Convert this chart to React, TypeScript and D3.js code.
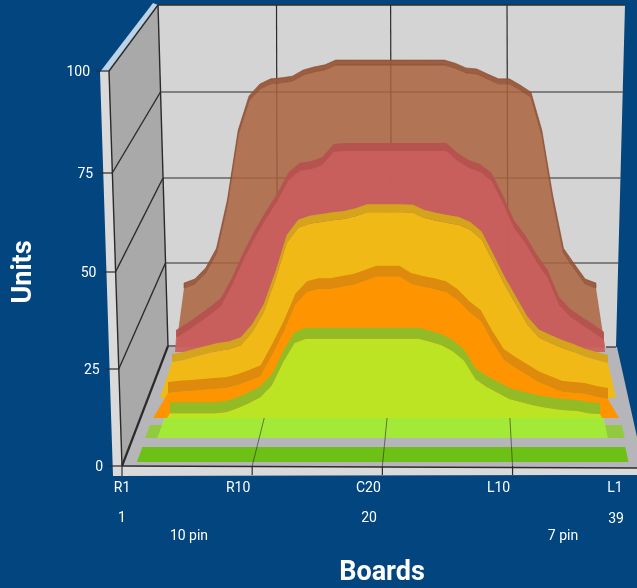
import React from "react";
import * as d3 from "d3";

const boards = d3.range(1, 40);
const yTicks = [100, 75, 50, 25, 0];
const gridBoardsFront = [10.7, 20.4, 30.1];
const gridBoardsBack = [10.5, 20.4, 30.5];
const boardLabels = ["R10", "C20", "L10"];

const brownValues = [17.3,18.5,21.7,27.5,41.6,62.1,72.1,75.6,77.1,77.4,77.9,79.7,80.6,81.2,82.6,82.6,82.6,82.6,82.6,82.6,82.6,82.6,82.6,82.6,82.6,81.7,80.3,80.0,78.5,77.1,77.1,75.3,73.2,62.1,43.1,27.5,22.9,18.5,17.3];
const redValues = [4.1,6.1,8.4,10.8,13.4,19.5,26.8,33.2,38.7,43.9,50.0,52.7,53.2,54.4,58.2,58.5,58.5,58.5,58.5,58.5,58.5,58.5,58.5,58.5,58.5,55.6,53.5,52.4,49.8,43.4,36.1,31.7,26.2,21.5,13.7,10.2,7.9,5.8,3.5];
const yellowValues = [9.9,10.4,11.3,12.1,12.9,13.4,14.5,18.1,23.6,32.4,42.5,46.7,47.8,48.3,48.8,49.1,49.9,51.0,51.0,51.0,51.0,50.8,49.4,48.6,48.0,47.5,46.1,43.4,37.3,31.0,25.5,20.0,16.5,15.1,13.7,12.6,11.3,10.4,9.6];
const orangeValues = [6.7,7.0,7.2,7.5,7.8,8.0,8.8,9.9,11.2,16.9,23.0,30.3,33.7,34.5,34.5,35.1,35.6,36.7,37.8,37.8,37.8,35.9,35.1,34.5,33.7,31.6,28.4,26.0,20.4,15.5,13.4,11.5,9.6,8.3,7.0,6.7,6.4,5.6,5.1];
const limeValues = [1.3,1.3,1.3,1.3,1.3,1.6,2.7,4.0,5.6,8.8,15.0,20.1,21.2,21.2,21.2,21.2,21.2,21.2,21.2,21.2,21.2,21.2,21.2,20.4,19.5,17.9,15.3,10.4,8.3,6.7,5.1,4.3,3.5,2.9,2.4,2.1,1.9,1.3,1.1];

const layers = [
  { values: brownValues, depth: 0.99, xr: [184, 596], foot: [176, 605], band: 5, fill: "#aa633e", op: 0.85, bandFill: "#9a5638", stroke: "#85482c" },
  { values: redValues, depth: 0.95, xr: [176, 604], foot: [175, 605], band: 8, fill: "#cc5d5d", op: 0.9, bandFill: "#b65150", stroke: "none" },
  { values: yellowValues, depth: 0.567, xr: [172, 608], foot: [160, 616], band: 8, fill: "#f1b914", op: 1, bandFill: "#d3a41c", stroke: "none" },
  { values: orangeValues, depth: 0.4, xr: [168, 608], foot: [153, 619], band: 11, fill: "#fd9405", op: 1, bandFill: "#de8a0e", stroke: "none" },
  { values: limeValues, depth: 0.4, xr: [170, 600], foot: [167, 602], band: 11, fill: "#bce424", op: 1, bandFill: "#92bb28", stroke: "none" },
];

const strips = [
  { d: [0.033, 0.158], b: [2, 38.8], fill: "#6cc014" },
  { d: [0.233, 0.342], b: [1.95, 38.9], fill: "#93c93f" },
  { d: [0.233, 0.4], b: [2.9, 37.6], fill: "#a3ea39" },
];

const depthY0 = d3.scaleLinear([0, 1], [466, 346]);
const depthY100 = d3.scaleLinear([0, 1], [71, 5]);
const depthXL = d3.scaleLinear([0, 1], [122, 168]);
const depthXR = d3.scaleLinear([0, 1], [632, 606]);
const boardX = (b: number, d: number) => d3.scaleLinear([1, 39], [depthXL(d), depthXR(d)])(b);
const valueY = (d: number) => d3.scaleLinear([0, 100], [depthY0(d), depthY100(d)]);

const frontAxisY = d3.scaleLinear([0, 25, 50, 75, 100], [466, 369, 272, 173, 71]);
const backAxisY = d3.scaleLinear([0, 25, 50, 75, 100], [346, 263, 178, 92, 5]);
const frontEdgeX = d3.scaleLinear([0, 100], [122, 109]);
const backEdgeX = d3.scaleLinear([0, 100], [168, 158]);
const backRightX = d3.scaleLinear([0, 100], [616, 625]);

const BG = "#02457f";
const LINE = "#2c2c2c";
const poly = (pts: number[][]) => "M" + pts.map((p) => p.join(",")).join("L") + "Z";
const sans = "Roboto, 'Liberation Sans', sans-serif";

export default function App() {
  const w = 637;
  const h = 588;
  return (
    <svg width={w} height={h} style={{ position: "absolute", left: 0, top: 0, background: BG }}>
      <defs>
        <filter id="soft" x="-2%" y="-2%" width="104%" height="104%">
          <feGaussianBlur stdDeviation="0.5" />
        </filter>
      </defs>
      <g filter="url(#soft)">
        <path d={poly([[100, 72], [109, 72], [122, 466], [637, 468], [637, 475], [113, 476]])} fill="#dadada" />
        <path d={poly([[100, 72], [153, 3], [158, 5], [109, 72]])} fill="#bcd2e6" />
        <path d={poly([[158, 5], [625, 5], [616, 347], [168, 347]])} fill="#d4d4d4" />
        <path d={poly([[109, 72], [158, 5], [168, 346], [122, 466]])} fill="#a9a9a9" />
        <path d={poly([[168, 347], [617, 347], [637, 437], [637, 468], [122, 466]])} fill="#b6b6ba" />

        {yTicks.filter((t) => t > 0).map((t) => (
          <line key={t} x1={backEdgeX(t)} x2={backRightX(t)} y1={backAxisY(t)} y2={backAxisY(t)} stroke={LINE} strokeWidth={1.2} />
        ))}
        {gridBoardsBack.map((b) => (
          <line key={b} x1={boardX(b, 1) - 1} x2={boardX(b, 1)} y1={5} y2={346} stroke={LINE} strokeWidth={1.2} />
        ))}
        {yTicks.map((t) => (
          <line key={t} x1={frontEdgeX(t)} y1={frontAxisY(t)} x2={backEdgeX(t)} y2={backAxisY(t)} stroke={LINE} strokeWidth={t === 0 ? 2.2 : 1.4} />
        ))}
        <line x1={109} y1={71} x2={122} y2={466} stroke={LINE} strokeWidth={1.4} />
        <line x1={158} y1={5} x2={168} y2={346} stroke={LINE} strokeWidth={1.4} />
        <line x1={158} y1={5} x2={625} y2={5} stroke={LINE} strokeWidth={1.2} />
        <line x1={168} y1={346} x2={176} y2={346} stroke={LINE} strokeWidth={1.2} />
        <line x1={606} y1={347} x2={616} y2={347} stroke={LINE} strokeWidth={1.2} />

        {yTicks.map((t) => (
          <line key={t} x1={frontEdgeX(t) - 13} x2={frontEdgeX(t)} y1={frontAxisY(t)} y2={frontAxisY(t)} stroke={LINE} strokeWidth={1.2} />
        ))}

        {layers.map((l, i) => {
          const x = d3.scaleLinear([1, 39], l.xr);
          const y = valueY(l.depth);
          const top = d3.line<number>().x((b) => x(b)).y((b, k) => y(l.values[k]));
          const band = d3
            .area<number>()
            .x((b) => x(b))
            .y0((b, k) => y(l.values[k]))
            .y1((b, k) => y(l.values[k]) - l.band);
          const face = `M${l.foot[0]},${y(0)}L${top(boards)!.slice(1)}L${l.foot[1]},${y(0)}Z`;
          return (
            <g key={i}>
              <path d={face} fill={l.fill} fillOpacity={l.op} />
              <path d={band(boards)!} fill={l.bandFill} fillOpacity={l.op === 1 ? 1 : 0.95} stroke={l.stroke} strokeWidth={l.stroke === "none" ? 0 : 0.6} />
            </g>
          );
        })}

        {strips.map((s, i) => (
          <path
            key={i}
            d={poly([
              [boardX(s.b[0], s.d[0]), depthY0(s.d[0])],
              [boardX(s.b[1], s.d[0]), depthY0(s.d[0])],
              [boardX(s.b[1], s.d[1]), depthY0(s.d[1])],
              [boardX(s.b[0], s.d[1]), depthY0(s.d[1])],
            ])}
            fill={s.fill}
          />
        ))}

        <line x1={122} y1={466} x2={637} y2={468} stroke={LINE} strokeWidth={1.4} />
        {gridBoardsFront.map((b) => (
          <g key={b}>
            <line x1={boardX(b, 0)} y1={466} x2={boardX(b, 0.4) + 1} y2={418} stroke={LINE} strokeWidth={1} opacity={0.6} />
            <line x1={boardX(b, 0)} y1={466} x2={boardX(b, 0)} y2={475} stroke={LINE} strokeWidth={1.2} />
          </g>
        ))}
        <line x1={122} y1={466} x2={122} y2={476} stroke={LINE} strokeWidth={1.2} />

        <g fontFamily={sans} fontSize={14} fill="#fff">
          {yTicks.map((t) => (
            <text key={t} x={frontEdgeX(t) - 19} y={frontAxisY(t) + 5} textAnchor="end">{t}</text>
          ))}
          <g textAnchor="middle">
            <text x={122} y={492}>R1</text>
            {boardLabels.map((t, i) => (
              <text key={t} x={boardX(gridBoardsFront[i], 0) - 14} y={492}>{t}</text>
            ))}
            <text x={615} y={492}>L1</text>
            <text x={122} y={522}>1</text>
            <text x={369} y={522}>20</text>
            <text x={616} y={523}>39</text>
            <text x={189} y={540}>10 pin</text>
            <text x={563} y={540}>7 pin</text>
          </g>
        </g>
        <g fontFamily={sans} fontSize={27} fontWeight={700} fill="#fff" textAnchor="middle">
          <text x={382} y={580}>Boards</text>
          <text transform="translate(31,272) rotate(-90)">Units</text>
        </g>
      </g>
    </svg>
  );
}
